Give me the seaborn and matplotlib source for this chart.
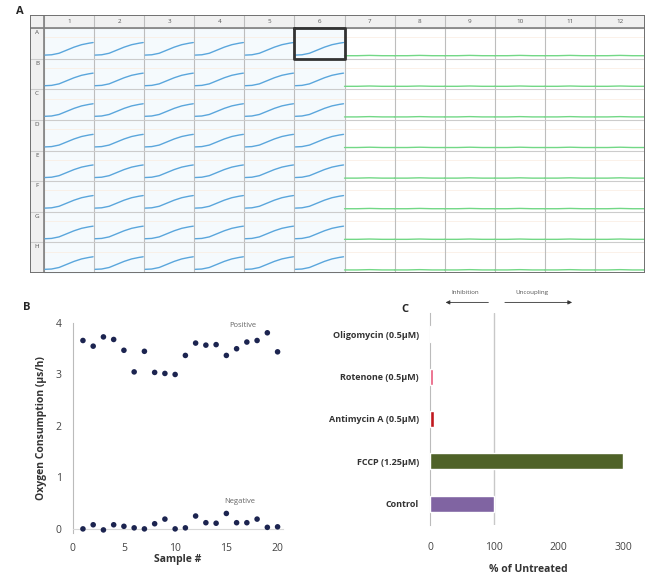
"""
Respirometry plate overview: well traces, control reproducibility, drug response
"""

import numpy as np
import pandas as pd
import matplotlib
matplotlib.use('Agg')
import matplotlib.pyplot as plt
import seaborn as sns

# --- 0. Data ---
# Plate layout
plate_rows = ['A', 'B', 'C', 'D', 'E', 'F', 'G', 'H']
plate_cols = ['1', '2', '3', '4', '5', '6', '7', '8', '9', '10', '11', '12']
positive_cols = ['1', '2', '3', '4', '5', '6']

# Typical trace inside a well (time as fraction of well width, signal as fraction of well height)
trace_time = [0.02, 0.15, 0.30, 0.45, 0.60, 0.75, 0.90, 0.98]
positive_trace = [0.12, 0.13, 0.18, 0.28, 0.38, 0.46, 0.51, 0.53]
negative_time = [0.0, 0.25, 0.5, 0.75, 1.0]
negative_trace = [0.10, 0.10, 0.11, 0.10, 0.10]

# Panel B: oxygen consumption per sample
sample_no = list(range(1, 21))
positive_o2 = [3.66, 3.55, 3.73, 3.68, 3.47, 3.05, 3.45, 3.04, 3.02, 3.00,
               3.37, 3.61, 3.57, 3.58, 3.37, 3.50, 3.63, 3.66, 3.81, 3.44]
negative_o2 = [0.00, 0.08, -0.02, 0.08, 0.05, 0.02, 0.00, 0.10, 0.19, 0.00,
               0.02, 0.25, 0.12, 0.11, 0.30, 0.12, 0.12, 0.19, 0.03, 0.04]

# Panel C: response to drugs
treatments = ['Oligomycin (0.5µM)', 'Rotenone (0.5µM)', 'Antimycin A (0.5µM)',
              'FCCP (1.25µM)', 'Control']
pct_untreated = [1, 4, 6, 300, 100]
bar_colors = ['#d0a0a0', '#e8587a', '#c0181e', '#4f6228', '#8064a2']

sns.set_style('white')
plt.rcParams['font.family'] = ['Open Sans', 'DejaVu Sans']

fig = plt.figure(figsize=(6.53, 5.77), dpi=100)

# --- 1. Panel A: plate grid ---
axA = fig.add_axes([30 / 653, 1 - 273 / 577, 615 / 653, 258 / 577])
hdr_w, hdr_h = 0.28, 0.43
axA.set_xlim(-hdr_w, 12)
axA.set_ylim(8, -hdr_h)
axA.axis('off')

# header backgrounds
axA.axhspan(-hdr_h, 0, color='#f0f0f0', zorder=0)
axA.axvspan(-hdr_w, 0, color='#f0f0f0', zorder=0)
# faint blue tint on active wells
axA.fill_between([0, 6], 0, 8, color='#f5fafd', zorder=0)

# well traces
rows_out = []
for ri, r in enumerate(plate_rows):
    for ci, c in enumerate(plate_cols):
        well = r + c
        if c in positive_cols:
            tt, vv, kind = trace_time, positive_trace, 'pos'
        else:
            tt, vv, kind = negative_time, negative_trace, 'neg'
        for t, v in zip(tt, vv):
            rows_out.append({'well': well, 'kind': kind, 'x': ci + t, 'y': ri + 1 - v})
wells = pd.DataFrame(rows_out)
sns.lineplot(data=wells, x='x', y='y', hue='kind', units='well', estimator=None,
             palette={'pos': '#5aa6dc', 'neg': '#72d886'}, lw=1.0, legend=False,
             ax=axA, zorder=3)

# faint orange guide lines in each well
for ri in range(8):
    axA.plot([0, 12], [ri + 0.3, ri + 0.3], color='#faece0', lw=0.5, zorder=1)

# grid lines
for ci in range(13):
    axA.plot([ci, ci], [-hdr_h, 8], color='#bdbdbd', lw=0.8, zorder=2)
for ri in range(9):
    axA.plot([-hdr_w, 12], [ri, ri], color='#cccccc', lw=0.8, zorder=2)
axA.plot([-hdr_w, 12], [0, 0], color='#808080', lw=1.2, zorder=2)
axA.plot([0, 0], [-hdr_h, 8], color='#808080', lw=1.2, zorder=2)
axA.plot([-hdr_w, 12, 12, -hdr_w, -hdr_w], [-hdr_h, -hdr_h, 8, 8, -hdr_h],
         color='#707070', lw=1.4, zorder=4)
# highlighted well A6
axA.plot([5, 6, 6, 5, 5], [0, 0, 1, 1, 0], color='#333333', lw=2.0, zorder=5)

for ci, c in enumerate(plate_cols):
    axA.text(ci + 0.5, -hdr_h / 2, c, ha='center', va='center', fontsize=4.5, color='#555555')
for ri, r in enumerate(plate_rows):
    axA.text(-hdr_w / 2, ri + 0.15, r, ha='center', va='center', fontsize=4.5, color='#555555')

fig.text(20 / 653, 1 - 12 / 577, 'A', fontsize=8, fontweight='bold', va='center', ha='center')

# --- 2. Panel B: scatter ---
axB = fig.add_axes([72.7 / 653, 1 - 533 / 577, 210 / 653, 210 / 577])
dfB = pd.DataFrame({'sample': sample_no * 2,
                    'o2': positive_o2 + negative_o2,
                    'group': ['Positive'] * 20 + ['Negative'] * 20})
sns.scatterplot(data=dfB, x='sample', y='o2', color='#1c2450', s=16, edgecolor='none',
                legend=False, ax=axB, zorder=3)
axB.set_xlim(0, 20.5)
axB.set_ylim(-0.08, 4.0)
axB.set_xticks([0, 5, 10, 15, 20])
axB.set_yticks([0, 1, 2, 3, 4])
sns.despine(ax=axB, top=True, right=True)
axB.spines['bottom'].set_position(('data', 0))
axB.spines['bottom'].set_color('#d8d8d8')
axB.spines['left'].set_color('#bbbbbb')
axB.tick_params(axis='both', labelsize=7.5, colors='#444444', length=2, width=0.6,
                direction='out', pad=6)
axB.tick_params(axis='x', pad=8)
axB.set_xlabel('Sample #', fontsize=7.5, fontweight='bold', color='#333333', labelpad=0)
axB.set_ylabel('Oxygen Consumption (µs/h)', fontsize=7.5, fontweight='bold', color='#333333',
               labelpad=6)
axB.text(16.6, 3.92, 'Positive', fontsize=5.5, color='#666666', ha='center')
axB.text(16.3, 0.5, 'Negative', fontsize=5.5, color='#666666', ha='center')
fig.text(27 / 653, 1 - 307 / 577, 'B', fontsize=8, fontweight='bold', va='center', ha='center')

# --- 3. Panel C: bar chart ---
axC = fig.add_axes([430 / 653, 1 - 525 / 577, 197 / 653, 212 / 577])
dfC = pd.DataFrame({'treatment': treatments, 'pct': pct_untreated})
sns.barplot(data=dfC, y='treatment', x='pct', hue='treatment', palette=bar_colors,
            orient='h', width=0.38, saturation=1, legend=False, ax=axC, zorder=3)
axC.set_xlim(0, 306)
axC.set_ylim(4.5, -0.5)
axC.axvline(100, color='#c8c8c8', lw=1.0, zorder=1)
axC.set_xticks([0, 100, 200, 300])
axC.set_yticks(range(5))
axC.set_yticklabels(treatments)
axC.tick_params(axis='y', length=0, labelsize=6.5, colors='#333333', pad=8)
axC.tick_params(axis='x', length=2, width=0.6, labelsize=7.5, colors='#444444', pad=10)
for lab in axC.get_yticklabels():
    lab.set_fontweight('bold')
# minor ticks between categories
axC.set_yticks([-0.5, 0.5, 1.5, 2.5, 3.5, 4.5], minor=True)
axC.tick_params(axis='y', which='minor', length=3, width=0.6, color='#bbbbbb')
for s in ['top', 'right', 'bottom']:
    axC.spines[s].set_visible(False)
axC.spines['left'].set_color('#bbbbbb')
axC.spines['left'].set_linewidth(0.8)
axC.set_xlabel('% of Untreated', fontsize=7.5, fontweight='bold', color='#333333', labelpad=8)
axC.set_ylabel('')

# arrows for inhibition / uncoupling
axC.annotate('', xy=(20, -0.75), xytext=(95, -0.75), annotation_clip=False,
             arrowprops=dict(arrowstyle='-|>', color='#333333', lw=0.6, mutation_scale=6))
axC.annotate('', xy=(225, -0.75), xytext=(112, -0.75), annotation_clip=False,
             arrowprops=dict(arrowstyle='-|>', color='#333333', lw=0.6, mutation_scale=6))
axC.text(55, -0.92, 'Inhibition', fontsize=4.5, color='#555555', ha='center', va='bottom')
axC.text(158, -0.92, 'Uncoupling', fontsize=4.5, color='#555555', ha='center', va='bottom')
fig.text(405 / 653, 1 - 310 / 577, 'C', fontsize=8, fontweight='bold', va='center', ha='center')

fig.savefig('out.png', dpi=100)
